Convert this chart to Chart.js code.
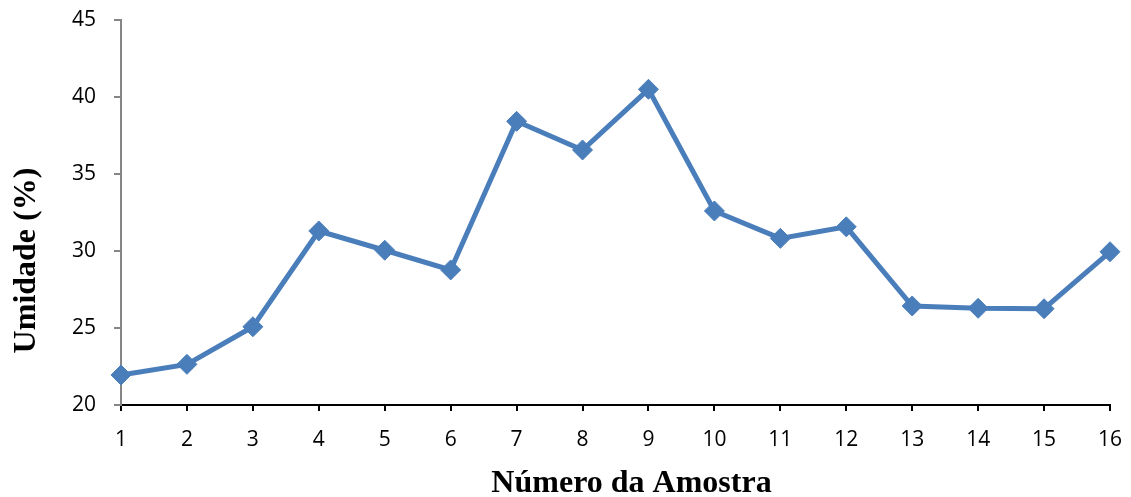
<!DOCTYPE html>
<html>
<head>
<meta charset="utf-8">
<script src="https://cdn.jsdelivr.net/npm/chart.js@4/dist/chart.umd.min.js"></script>
<style>
  html, body { margin: 0; padding: 0; background: #fff; }
  #umidade-chart { display: block; }
</style>
</head>
<body>
<canvas id="umidade-chart" width="1131" height="497"></canvas>
<script>
const amostras = ['1','2','3','4','5','6','7','8','9','10','11','12','13','14','15','16'];
const umidade = [21.95, 22.64, 25.08, 31.3, 30.05, 28.77, 38.42, 36.56, 40.5, 32.6, 30.82, 31.57, 26.43, 26.28, 26.25, 29.95];
const yTicks = [20, 25, 30, 35, 40, 45];

const lineColor = '#4a7ebb';
const ctx = document.getElementById('umidade-chart').getContext('2d');

// titles sit off-centre in the original, padded with spaces to shift them
const xTitle = '    Número da Amostra';
const yTitle = 'Umidade (%)            ';

const chart = new Chart(ctx, {
  type: 'line',
  data: {
    labels: amostras,
    datasets: [{
      label: 'Umidade',
      data: umidade,
      borderColor: lineColor,
      backgroundColor: lineColor,
      borderWidth: 5,
      pointStyle: 'rectRot',
      pointRadius: 10,
      pointBorderWidth: 1,
      pointBorderColor: lineColor,
      pointBackgroundColor: lineColor,
      tension: 0,
      fill: false
    }]
  },
  options: {
    responsive: false,
    animation: false,
    layout: { padding: { top: 20, right: 21, left: 0, bottom: 0 } },
    plugins: {
      legend: { display: false },
      tooltip: { enabled: false }
    },
    scales: {
      x: {
        offset: false,
        grid: {
          display: true,
          drawOnChartArea: false,
          drawTicks: true,
          tickLength: 6,
          color: '#000',
          lineWidth: 2
        },
        border: { display: true, color: '#000', width: 2 },
        ticks: {
          color: '#000',
          padding: 16,
          font: { family: 'Open Sans', size: 21 },
          maxRotation: 0,
          autoSkip: false
        },
        title: {
          display: true,
          text: xTitle,
          color: '#000',
          font: { family: 'Liberation Serif', size: 32, weight: 'bold' },
          padding: { top: 4, bottom: -6 }
        },
        afterFit: s => { s.height = 92; s.paddingLeft = 0; s.paddingRight = 0; }
      },
      y: {
        min: 20,
        max: 45,
        afterBuildTicks: s => { s.ticks = yTicks.map(v => ({ value: v })); },
        grid: {
          display: true,
          drawOnChartArea: false,
          drawTicks: true,
          tickLength: 7,
          color: '#868686',
          lineWidth: 2
        },
        border: { display: true, color: '#868686', width: 2 },
        ticks: {
          color: '#000',
          padding: 18,
          font: { family: 'Open Sans', size: 21 }
        },
        title: {
          display: true,
          text: yTitle,
          color: '#000',
          font: { family: 'Liberation Serif', size: 32, weight: 'bold' },
          padding: { top: 8, bottom: 0 }
        },
        afterFit: s => { s.width = 121; s.paddingTop = 0; s.paddingBottom = 0; }
      }
    }
  }
});
</script>
</body>
</html>
